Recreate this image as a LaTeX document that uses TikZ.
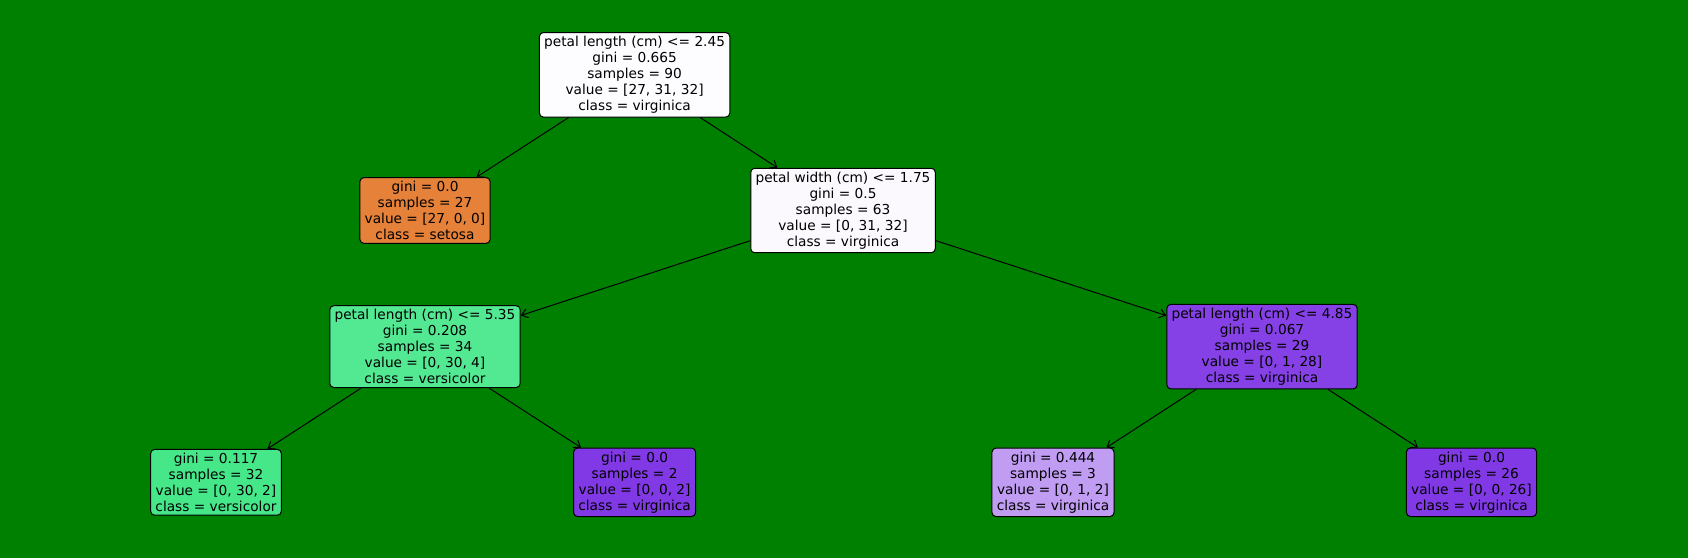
\documentclass[tikz,border=0pt]{standalone}
\usepackage{fontspec}
\setmainfont{DejaVu Sans}
\usetikzlibrary{arrows.meta,positioning}

\definecolor{bggreen}{HTML}{008000}
\definecolor{setosa}{HTML}{E58139}
\definecolor{versi}{HTML}{53E892}
\definecolor{versileaf}{HTML}{46E789}
\definecolor{virgi}{HTML}{8540E6}
\definecolor{virgileaf}{HTML}{8139E5}
\definecolor{virgilight}{HTML}{C09CF2}
\definecolor{rootwhite}{HTML}{FDFCFF}
\definecolor{splitwhite}{HTML}{FBF9FE}

\begin{document}
\begin{tikzpicture}[x=0.5pt, y=-0.5pt,
  treenode/.style={draw=black, line width=0.5pt, rounded corners=2pt, align=center,
    inner xsep=2.4pt, inner ysep=1.8pt, font=\fontsize{6.85}{8}\selectfont},
  edge/.style={line width=0.5pt, -{Straight Barb[length=3pt,width=4.5pt]}}]
\fill[bggreen] (0,0) rectangle (1688,558);
\useasboundingbox (0,0) rectangle (1688,558);

% depth 0
\node[treenode, fill=rootwhite] (root) at (634.6,74.8)
  {petal length (cm) <= 2.45\\gini = 0.665\\samples = 90\\value = [27, 31, 32]\\class = virginica};

% depth 1
\node[treenode, fill=setosa] (setosa) at (425,210.5)
  {gini = 0.0\\samples = 27\\value = [27, 0, 0]\\class = setosa};
\node[treenode, fill=splitwhite] (pw) at (843,210.5)
  {petal width (cm) <= 1.75\\gini = 0.5\\samples = 63\\value = [0, 31, 32]\\class = virginica};

% depth 2
\node[treenode, fill=versi] (plleft) at (425,346.6)
  {petal length (cm) <= 5.35\\gini = 0.208\\samples = 34\\value = [0, 30, 4]\\class = versicolor};
\node[treenode, fill=virgi] (plright) at (1262,346.6)
  {petal length (cm) <= 4.85\\gini = 0.067\\samples = 29\\value = [0, 1, 28]\\class = virginica};

% depth 3 (leaves)
\node[treenode, fill=versileaf] (leafa) at (216,482.3)
  {gini = 0.117\\samples = 32\\value = [0, 30, 2]\\class = versicolor};
\node[treenode, fill=virgileaf] (leafb) at (634.6,482.3)
  {gini = 0.0\\samples = 2\\value = [0, 0, 2]\\class = virginica};
\node[treenode, fill=virgilight] (leafc) at (1053,482.3)
  {gini = 0.444\\samples = 3\\value = [0, 1, 2]\\class = virginica};
\node[treenode, fill=virgileaf] (leafd) at (1471.5,482.3)
  {gini = 0.0\\samples = 26\\value = [0, 0, 26]\\class = virginica};

\draw[edge] (root) -- (setosa);
\draw[edge] (root) -- (pw);
\draw[edge] (pw) -- (plleft);
\draw[edge] (pw) -- (plright);
\draw[edge] (plleft) -- (leafa);
\draw[edge] (plleft) -- (leafb);
\draw[edge] (plright) -- (leafc);
\draw[edge] (plright) -- (leafd);
\end{tikzpicture}
\end{document}
